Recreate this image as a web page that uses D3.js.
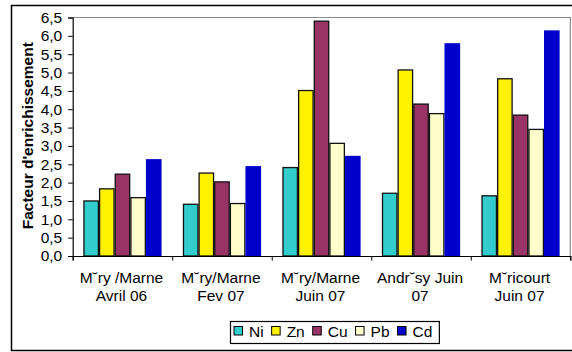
<!DOCTYPE html>
<html>
<head>
<meta charset="utf-8">
<script src="https://cdn.jsdelivr.net/npm/d3@7/dist/d3.min.js"></script>
<style>
  html, body { margin: 0; padding: 0; background: #fff; }
  svg { display: block; font-family: "Liberation Sans", Arial, sans-serif; }
</style>
</head>
<body>
<svg id="chart" width="572" height="352"></svg>
<script>
// Sampling sites (label lines) and enrichment factors per metal
const sites = [
  ["M\u02D8ry /Marne", "Avril 06"],
  ["M\u02D8ry/Marne", "Fev 07"],
  ["M\u02D8ry/Marne", "Juin 07"],
  ["Andr\u02D8sy Juin", "07"],
  ["M\u02D8ricourt", "Juin 07"]
];
const metals = ["Ni", "Zn", "Cu", "Pb", "Cd"];
const ni = [1.50, 1.41, 2.41, 1.71, 1.64];
const zn = [1.83, 2.26, 4.51, 5.07, 4.83];
const cu = [2.23, 2.02, 6.40, 4.14, 3.84];
const pb = [1.59, 1.43, 3.07, 3.88, 3.45];
const cd = [2.64, 2.45, 2.73, 5.80, 6.15];
const yTicks = [0, 0.5, 1, 1.5, 2, 2.5, 3, 3.5, 4, 4.5, 5, 5.5, 6, 6.5];
const yTitle = "Facteur d'enrichissement";

const seriesValues = { Ni: ni, Zn: zn, Cu: cu, Pb: pb, Cd: cd };
const colors = { Ni: "#33CCCC", Zn: "#FFF200", Cu: "#993366", Pb: "#FFFFCC", Cd: "#0000CC" };
const outlined = { Ni: true, Zn: true, Cu: true, Pb: true, Cd: false };

const FONT = "'Liberation Sans', Arial, sans-serif";
const FS = 15.5;

const svg = d3.select("#chart");
const plot = { left: 72.7, right: 570.3, top: 17.5, bottom: 256 };

// Outer chart frame
svg.append("rect")
  .attr("x", 11.5).attr("y", 5.5)
  .attr("width", 600).attr("height", 345)
  .attr("fill", "#fff").attr("stroke", "#000").attr("stroke-width", 1.5);

const x0 = d3.scaleBand().domain(d3.range(sites.length))
  .range([plot.left, plot.right]).padding(0);
const gap = x0.bandwidth() * 0.107;
const x1 = d3.scaleBand().domain(metals)
  .range([gap, x0.bandwidth() - gap]).padding(0);
const y = d3.scaleLinear().domain([0, 6.5]).range([plot.bottom, plot.top]);

// Plot area border (top / right in grey)
svg.append("path")
  .attr("d", `M${plot.left},${plot.top}H${plot.right}V${plot.bottom}`)
  .attr("fill", "none").attr("stroke", "#8c8c8c").attr("stroke-width", 1.2);

// Bars
const groups = svg.append("g").selectAll("g")
  .data(sites.map((s, i) => i))
  .join("g")
  .attr("transform", i => `translate(${x0(i)},0)`);

groups.selectAll("rect")
  .data(i => metals.map(m => ({ m, v: seriesValues[m][i] })))
  .join("rect")
  .attr("x", d => x1(d.m) + (outlined[d.m] ? 0.6 : 0))
  .attr("width", d => x1.bandwidth() - (outlined[d.m] ? 1.2 : 0))
  .attr("y", d => y(d.v))
  .attr("height", d => y(0) - y(d.v))
  .attr("fill", d => colors[d.m])
  .attr("stroke", d => outlined[d.m] ? "#111" : "none")
  .attr("stroke-width", 1.3);

// Y axis
const fmt = d3.format(".1f");
const yAxis = svg.append("g")
  .attr("transform", `translate(${plot.left},0)`)
  .call(d3.axisLeft(y).tickValues(yTicks).tickSize(4.5).tickPadding(6)
    .tickFormat(d => fmt(d).replace(".", ",")));
yAxis.select(".domain").attr("stroke", "#000").attr("stroke-width", 1.2);
yAxis.selectAll(".tick line").attr("stroke", "#000");
yAxis.selectAll(".tick text")
  .attr("font-family", FONT)
  .attr("font-size", FS).attr("fill", "#000");

// X axis: ticks at category boundaries
const xb = d3.scaleLinear().domain([0, sites.length]).range([plot.left, plot.right]);
const xAxis = svg.append("g")
  .attr("transform", `translate(0,${plot.bottom})`)
  .call(d3.axisBottom(xb).tickValues(d3.range(sites.length + 1)).tickSize(4.5).tickFormat(""));
xAxis.select(".domain").attr("stroke", "#000").attr("stroke-width", 1.2);
xAxis.selectAll(".tick line").attr("stroke", "#000");

// Category labels (two lines each)
svg.append("g").selectAll("text")
  .data(sites)
  .join("text")
  .attr("font-family", FONT)
  .attr("font-size", FS)
  .attr("text-anchor", "middle")
  .attr("fill", "#000")
  .each(function (lines, i) {
    const t = d3.select(this);
    lines.forEach((ln, k) => {
      t.append("tspan")
        .attr("x", x0(i) + x0.bandwidth() / 2 - 1)
        .attr("y", 283.3 + k * 17.4)
        .text(ln);
    });
  });

// Y axis title
svg.append("text")
  .attr("transform", `translate(33,${(plot.top + plot.bottom) / 2 - 1}) rotate(-90)`)
  .attr("text-anchor", "middle")
  .attr("font-family", FONT)
  .attr("font-size", FS).attr("font-weight", "bold")
  .attr("fill", "#000")
  .text(yTitle);

// Legend
const legend = svg.append("g");
const legendBox = legend.append("rect")
  .attr("fill", "#fff").attr("stroke", "#000").attr("stroke-width", 1.2);
let lx = 234;
const ly = 326.5;
metals.forEach(m => {
  legend.append("rect")
    .attr("x", lx).attr("y", ly)
    .attr("width", 8.5).attr("height", 8.5)
    .attr("fill", colors[m]).attr("stroke", "#000").attr("stroke-width", 1);
  const t = legend.append("text")
    .attr("x", lx + 15).attr("y", ly + 10)
    .attr("font-family", FONT)
    .attr("font-size", FS).attr("fill", "#000")
    .text(m);
  lx += 15 + t.node().getComputedTextLength() + 8;
});
legendBox
  .attr("x", 230.5).attr("y", 321.5)
  .attr("width", lx - 8 + 7 - 230.5).attr("height", 22);
</script>
</body>
</html>
